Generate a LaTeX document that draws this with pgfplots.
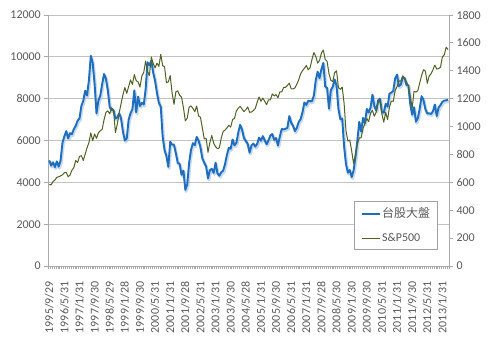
\documentclass[border=0pt]{standalone}
\usepackage{pgfplots}
\pgfplotsset{compat=1.18}
\usepackage{pgfplotstable}
\usepackage{fontspec}
\setmainfont{Carlito}
\newfontfamily\cjk{Noto Sans CJK TC}
\definecolor{twblue}{RGB}{31,110,190}
\definecolor{twshadow}{RGB}{150,185,225}
\definecolor{spolive}{RGB}{79,98,40}
\definecolor{ticktext}{RGB}{89,89,89}
\definecolor{gridc}{RGB}{195,195,195}
\definecolor{axisc}{RGB}{170,170,170}
\definecolor{legendc}{RGB}{160,160,160}

\pgfplotstableread{
tw sp
5050 584
4800 582
4960 605
4730 616
5000 636
4750 640
5050 646
5900 654
6200 669
6450 671
6100 640
6350 652
6300 687
6550 705
6700 757
6950 741
7050 786
7650 791
7900 757
8380 801
8150 848
8900 885
10050 954
9700 899
8700 947
7300 915
7900 955
8150 970
8700 980
9180 1049
8950 1102
8400 1112
7600 1091
7450 1134
7450 1121
7050 957
7100 1017
7300 1099
7050 1164
6420 1229
6000 1280
6100 1238
7000 1286
7300 1335
7500 1302
8400 1373
7350 1329
8100 1320
7650 1283
7800 1363
7720 1389
8450 1469
9740 1394
9600 1366
9800 1499
9250 1452
8850 1421
8270 1455
7800 1431
7620 1518
6190 1437
5540 1429
5260 1315
4740 1320
5940 1366
5800 1240
5800 1160
5380 1249
4930 1256
4880 1224
4360 1211
4560 1134
3640 1041
3900 1060
4930 1139
5550 1148
5870 1130
5780 1107
6170 1147
6000 1077
5680 1067
5150 990
4940 912
4760 916
4190 815
4580 886
4650 936
4450 880
4940 856
4430 841
4320 848
4480 917
4560 964
4870 975
5320 990
5650 1008
5610 996
6050 1051
5770 1058
5890 1112
6380 1131
6750 1145
6520 1126
6120 1107
5980 1121
5840 1141
5420 1102
5770 1104
5850 1115
5710 1130
5840 1174
6140 1212
5990 1181
6210 1204
6010 1181
5820 1157
6010 1192
6240 1191
6310 1234
6030 1220
6120 1229
5760 1207
6200 1249
6550 1248
6530 1280
6560 1281
6610 1295
7170 1311
6850 1270
6700 1270
6450 1277
6610 1304
6890 1336
7020 1378
7360 1401
7820 1418
7700 1438
7900 1407
7880 1421
7880 1482
8150 1531
8880 1503
9290 1455
8980 1474
9410 1527
9710 1549
8590 1481
8510 1468
7520 1379
8410 1331
8570 1323
8920 1386
8620 1400
7520 1280
7020 1267
7050 1283
5720 1166
4870 969
4460 896
4590 903
4250 826
4560 735
5210 798
5990 873
6890 919
6430 919
7080 987
6830 1021
7510 1057
7340 1036
7580 1096
8190 1115
7640 1074
7440 1104
7920 1169
8000 1187
7370 1089
7330 1031
7760 1102
7620 1049
8240 1141
8290 1183
8370 1181
8970 1258
9150 1286
8600 1327
8680 1326
9010 1364
9000 1345
8650 1321
8640 1292
7740 1219
7230 1131
7590 1253
6900 1247
7070 1258
7520 1312
8120 1366
7930 1408
7500 1398
7300 1310
7300 1362
7270 1379
7400 1407
7720 1441
7170 1412
7580 1416
7700 1426
7850 1498
7910 1515
7920 1569
7950 1552
}\datatable

\pgfplotsset{
  common/.style={
    at={(48.3bp,78bp)}, anchor=south west,
    scale only axis, width=400.7bp, height=251bp,
    xmin=-0.5, xmax=211.5,
    axis line style={-, axisc, line width=0.8bp},
    tick align=outside,
    major tick length=4bp,
    every tick/.style={axisc, line width=0.8bp},
    yticklabel style={font=\fontsize{12}{14}\selectfont, text=ticktext},
    /pgf/number format/assume math mode=true,
    /pgf/number format/set thousands separator={},
    scaled y ticks=false,
    clip=false,
  },
}

\begin{document}
\begin{tikzpicture}
\useasboundingbox (0,0) rectangle (490bp,344bp);
\begin{axis}[
  common,
  axis x line*=bottom, axis y line*=left,
  ymin=0, ymax=12000, ytick={0,2000,...,12000},
  ymajorgrids, grid style={gridc, line width=0.8bp},
  xtick={0,8,...,208},
  xticklabels={1995/9/29,1996/5/31,1997/1/31,1997/9/30,1998/5/29,1999/1/28,1999/9/30,2000/5/31,2001/1/31,2001/9/28,2002/5/31,2003/1/31,2003/9/30,2004/5/28,2005/1/31,2005/9/30,2006/5/31,2007/1/31,2007/9/28,2008/5/30,2009/1/30,2009/9/30,2010/5/31,2011/1/31,2011/9/30,2012/5/31,2013/1/31},
  xticklabel style={rotate=90, anchor=east, font=\fontsize{12}{14}\selectfont, text=ticktext},
  xticklabel shift=8bp,
  major x tick style={draw=none},
  minor xtick={-0.5,0.5,...,211.5},
  minor x tick style={axisc, line width=0.5bp},
  minor tick length=3bp,
]
\addplot[twshadow, opacity=0.55, line width=3bp, line join=round, xshift=0.8bp, yshift=-1.5bp]
  table[x expr=\coordindex, y=tw] {\datatable};
\addplot[twblue, line width=1.9bp, line join=round]
  table[x expr=\coordindex, y=tw] {\datatable};
\end{axis}
\begin{axis}[
  common,
  axis x line=none, axis y line*=right,
  ymin=0, ymax=1800, ytick={0,200,...,1800},
  legend style={at={(0.7637,0.259)}, anchor=north west, draw=legendc, line width=0.8bp,
    fill=white, font=\fontsize{12}{14}\selectfont, text=ticktext,
    inner xsep=6bp, inner ysep=5bp, row sep=11bp,
    nodes={inner sep=1.5bp}},
  legend cell align=left,
  legend image code/.code={\draw[#1] (0bp,0bp) -- (18bp,0bp);},
]
\addlegendimage{twblue, line width=2bp}
\addlegendentry{{\cjk 台股大盤}}
\addplot[spolive, line width=1bp, line join=round]
  table[x expr=\coordindex, y=sp] {\datatable};
\addlegendentry{S\&P500}
\end{axis}
\end{tikzpicture}
\end{document}
